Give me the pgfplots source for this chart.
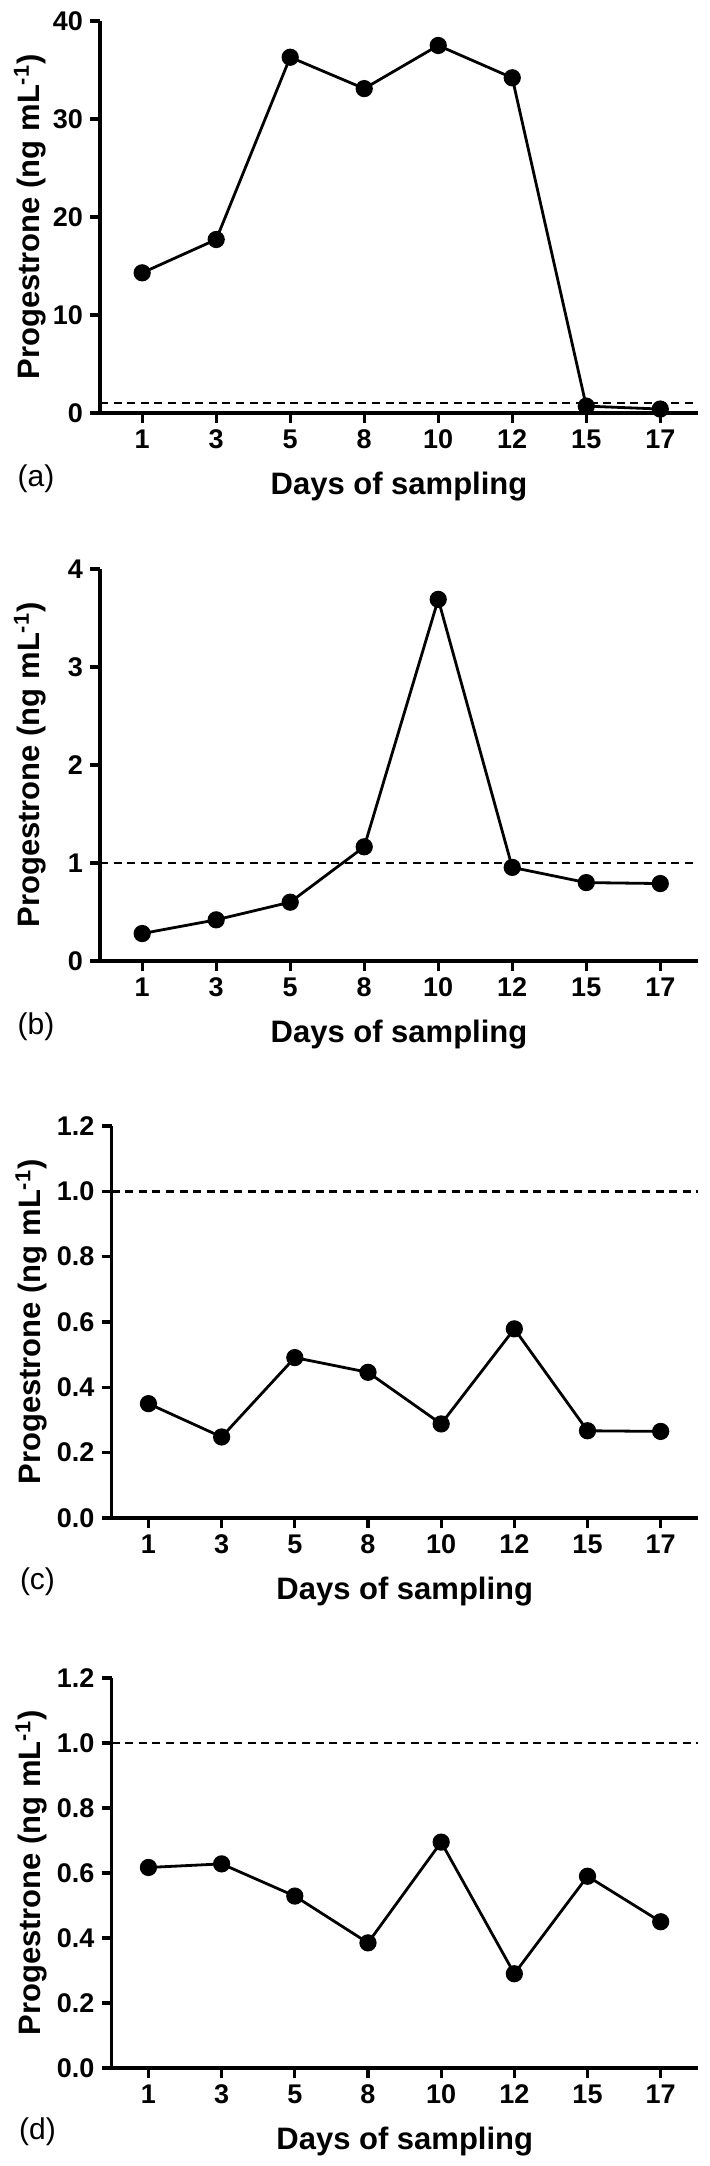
\documentclass[border=0pt]{standalone}
\usepackage{fontspec}
\setmainfont{Liberation Sans}
\usepackage{pgfplots}
\pgfplotsset{compat=1.18}
\pgfplotsset{
 panel/.style={
  scale only axis,
  axis lines*=left,
  axis line style={line width=1.6pt},
  tick style={line width=1.6pt, black},
  tick align=outside,
  major tick length=5pt,
  xtick={0,...,7},
  xticklabels={1,3,5,8,10,12,15,17},
  tick label style={font=\fontsize{13.5}{15}\selectfont\bfseries},
  /pgf/number format/assume math mode=true,
  label style={font=\fontsize{15.5}{18}\selectfont\bfseries},
  xlabel={Days of sampling},
  ylabel={Progestrone (ng mL\textsuperscript{-1})},
  x label style={at={(axis description cs:0.5,0)}, anchor=center, yshift=-37pt},
  ymin=0,
  clip=false,
 },
 series/.style={black, line width=1.4pt, mark=*, mark size=3.6pt, mark options={solid, fill=black}},
 thresh/.style={black, line width=1.3pt, dash pattern=on 4pt off 2.8pt, forget plot},
 wideleft/.style={xmin=-0.57, xmax=7.51, width=299pt,
   y label style={at={([xshift=-35pt]axis description cs:0,0.5)}, anchor=center}},
 narrowleft/.style={xmin=-0.505, xmax=7.51, width=293.25pt,
   y label style={at={([xshift=-40pt]axis description cs:0,0.5)}, anchor=center},
   ytick={0,0.2,0.4,0.6,0.8,1.0,1.2}, ymax=1.2,
   yticklabel style={/pgf/number format/.cd, fixed, fixed zerofill, precision=1}},
}
\begin{document}
\begin{tikzpicture}
\path (0,0) rectangle (355pt,1083pt);
% (a)
\begin{axis}[panel, wideleft, at={(50pt,876.5pt)}, anchor=south west, height=196pt,
  ymax=40, ytick={0,10,20,30,40}]
\addplot[thresh] coordinates {(-0.57,1) (7.51,1)};
\addplot[series] coordinates {(0,14.3) (1,17.7) (2,36.3) (3,33.1) (4,37.5) (5,34.2) (6,0.7) (7,0.4)};
\node[font=\fontsize{15}{18}\selectfont] at ([xshift=-32pt,yshift=-33pt]rel axis cs:0,0) {(a)};
\end{axis}
% (b)
\begin{axis}[panel, wideleft, at={(50pt,602.5pt)}, anchor=south west, height=196pt,
  ymax=4, ytick={0,1,2,3,4}]
\addplot[thresh] coordinates {(-0.57,1) (7.51,1)};
\addplot[series] coordinates {(0,0.28) (1,0.42) (2,0.60) (3,1.165) (4,3.69) (5,0.955) (6,0.80) (7,0.79)};
\node[font=\fontsize{15}{18}\selectfont] at ([xshift=-32pt,yshift=-33pt]rel axis cs:0,0) {(b)};
\end{axis}
% (c)
\begin{axis}[panel, narrowleft, at={(55.75pt,324pt)}, anchor=south west, height=196pt]
\addplot[thresh] coordinates {(-0.505,1) (7.51,1)};
\addplot[series] coordinates {(0,0.350) (1,0.248) (2,0.491) (3,0.446) (4,0.288) (5,0.579) (6,0.267) (7,0.265)};
\node[font=\fontsize{15}{18}\selectfont] at ([xshift=-37pt,yshift=-32pt]rel axis cs:0,0) {(c)};
\end{axis}
% (d)
\begin{axis}[panel, narrowleft, at={(55.75pt,49pt)}, anchor=south west, height=195pt]
\addplot[thresh] coordinates {(-0.505,1) (7.51,1)};
\addplot[series] coordinates {(0,0.617) (1,0.628) (2,0.529) (3,0.385) (4,0.695) (5,0.290) (6,0.590) (7,0.450)};
\node[font=\fontsize{15}{18}\selectfont] at ([xshift=-37pt,yshift=-32pt]rel axis cs:0,0) {(d)};
\end{axis}
\end{tikzpicture}
\end{document}
